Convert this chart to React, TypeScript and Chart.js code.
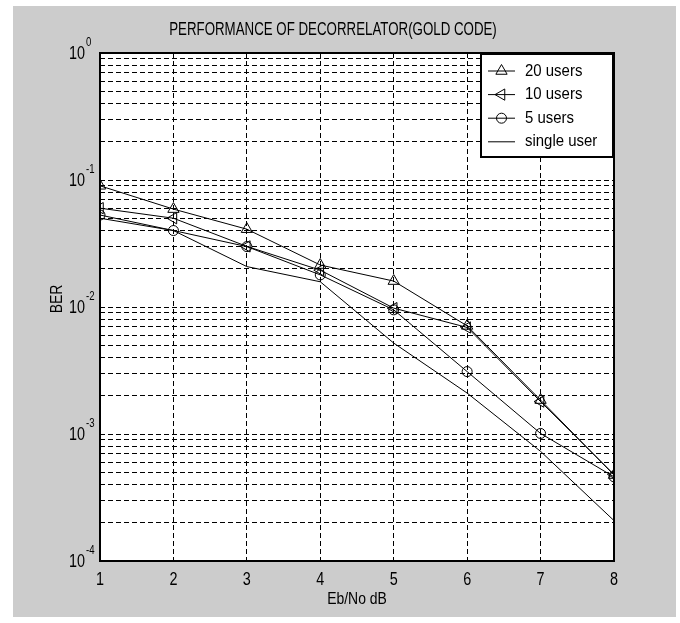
import React, { useEffect, useRef } from 'react';
import { Chart, registerables } from 'chart.js';

Chart.register(...registerables);

// ---- data ----
const ebNo = [1, 2, 3, 4, 5, 6, 7, 8];
const users20 = [0.09, 0.059, 0.041, 0.0214, 0.016, 0.0071, 0.00185, 0.000475];
const users10 = [0.06, 0.05, 0.03, 0.0195, 0.0098, 0.0069, 0.0018, 0.00048];
const users5 = [0.053, 0.04, 0.0299, 0.0179, 0.0095, 0.0031, 0.00101, 0.00046];
const singleUser = [0.05, 0.04, 0.0208, 0.0158, 0.0052, 0.0021, 0.00073, 0.000208];
const seriesLabels = ['20 users', '10 users', '5 users', 'single user'];
const yExponents = [0, -1, -2, -3, -4];
const xTickValues = [1, 2, 3, 4, 5, 6, 7, 8];
const titleText = 'PERFORMANCE OF DECORRELATOR(GOLD CODE)';
const xTitle = 'Eb/No dB';
const yTitle = 'BER';

const FONT = '"Liberation Sans", Arial, sans-serif';

function txt(
  ctx: CanvasRenderingContext2D,
  s: string,
  x: number,
  y: number,
  size: number,
  sx: number,
  align: CanvasTextAlign,
  rot = 0
) {
  ctx.save();
  ctx.font = `${size}px ${FONT}`;
  ctx.fillStyle = '#000';
  ctx.textAlign = align;
  ctx.textBaseline = 'middle';
  ctx.translate(x, y);
  if (rot) ctx.rotate(rot);
  ctx.scale(sx, 1);
  ctx.fillText(s, 0, 0);
  ctx.restore();
}

function marker(ctx: CanvasRenderingContext2D, kind: string, x: number, y: number, r: number) {
  ctx.save();
  ctx.strokeStyle = '#000';
  ctx.lineWidth = 1;
  ctx.beginPath();
  if (kind === 'circle') {
    ctx.arc(x, y, r, 0, Math.PI * 2);
  } else if (kind === 'triUp' || kind === 'triLeft') {
    let a = kind === 'triUp' ? 0 : -Math.PI / 2;
    ctx.moveTo(x + Math.sin(a) * r, y - Math.cos(a) * r);
    a += (2 * Math.PI) / 3;
    ctx.lineTo(x + Math.sin(a) * r, y - Math.cos(a) * r);
    a += (2 * Math.PI) / 3;
    ctx.lineTo(x + Math.sin(a) * r, y - Math.cos(a) * r);
    ctx.closePath();
  }
  ctx.stroke();
  ctx.restore();
}

const decorPlugin = {
  id: 'decor',
  beforeDraw(chart: any) {
    const ctx = chart.ctx as CanvasRenderingContext2D;
    ctx.save();
    ctx.fillStyle = '#ffffff';
    ctx.fillRect(0, 0, chart.width, chart.height);
    ctx.fillStyle = '#cccccc';
    ctx.fillRect(13, 6, 663, 611);
    const a = chart.chartArea;
    ctx.fillStyle = '#ffffff';
    ctx.fillRect(a.left, a.top, a.right - a.left, a.bottom - a.top);
    ctx.restore();
  },
  afterDraw(chart: any) {
    const ctx = chart.ctx as CanvasRenderingContext2D;
    const a = chart.chartArea;
    const xs = chart.scales.x;
    const ys = chart.scales.y;
    // box
    ctx.save();
    ctx.strokeStyle = '#000';
    ctx.lineWidth = 2;
    ctx.strokeRect(a.left, a.top, a.right - a.left, a.bottom - a.top);
    ctx.restore();
    // title
    txt(ctx, titleText, 333, 30, 17.5, 0.76, 'center');
    // x tick labels
    xTickValues.forEach((v) => {
      txt(ctx, String(v), xs.getPixelForValue(v), a.bottom + 19, 18, 0.8, 'center');
    });
    // y tick labels 10^e
    yExponents.forEach((e) => {
      const y = ys.getPixelForValue(Math.pow(10, e));
      txt(ctx, '10', a.left - 15, y + 1, 18, 0.8, 'right');
      txt(ctx, String(e), a.left - 14, y - 10, 12, 0.8, 'left');
    });
    // axis titles
    txt(ctx, xTitle, (a.left + a.right) / 2, a.bottom + 38, 17, 0.82, 'center');
    txt(ctx, yTitle, 57, (a.top + a.bottom) / 2 - 8, 17, 0.82, 'center', -Math.PI / 2);
    // legend
    const lw = 132;
    const lh = 103;
    const lx = a.right - lw - 1;
    const ly = a.top + 1;
    ctx.save();
    ctx.fillStyle = '#fff';
    ctx.fillRect(lx, ly, lw, lh);
    ctx.strokeStyle = '#000';
    ctx.lineWidth = 2;
    ctx.strokeRect(lx, ly, lw, lh);
    ctx.restore();
    const kinds = ['triUp', 'triLeft', 'circle', 'none'];
    seriesLabels.forEach((lab, i) => {
      const yy = ly + 17 + i * 23.6;
      ctx.save();
      ctx.strokeStyle = '#000';
      ctx.lineWidth = 1;
      ctx.beginPath();
      ctx.moveTo(lx + 7, yy);
      ctx.lineTo(lx + 34, yy);
      ctx.stroke();
      ctx.restore();
      if (kinds[i] !== 'none') marker(ctx, kinds[i], lx + 20.5, yy, kinds[i] === 'circle' ? 5 : 6.5);
      txt(ctx, lab, lx + 44, yy, 17, 0.88, 'left');
    });
  },
};

function mkSet(label: string, data: number[], style: any, rotation: number, radius: number) {
  return {
    label,
    data: data.map((v, i) => ({ x: ebNo[i], y: v })),
    borderColor: '#000',
    borderWidth: 1,
    backgroundColor: 'transparent',
    pointStyle: style,
    rotation,
    pointRadius: radius,
    pointBorderColor: '#000',
    pointBackgroundColor: 'transparent',
    pointBorderWidth: 1,
    tension: 0,
    fill: false,
  };
}

export default function App() {
  const ref = useRef<HTMLCanvasElement | null>(null);
  useEffect(() => {
    if (!ref.current) return;
    const yTickVals: number[] = [];
    for (let e = -4; e < 0; e++) {
      for (let m = 1; m <= 9; m++) yTickVals.push(m * Math.pow(10, e));
    }
    yTickVals.push(1);
    const chart = new Chart(ref.current, {
      type: 'line',
      data: {
        datasets: [
          mkSet(seriesLabels[0], users20, 'triangle', 0, 6.5),
          mkSet(seriesLabels[1], users10, 'triangle', -90, 6.5),
          mkSet(seriesLabels[2], users5, 'circle', 0, 5),
          mkSet(seriesLabels[3], singleUser, false, 0, 0),
        ] as any,
      },
      options: {
        animation: false,
        responsive: false,
        devicePixelRatio: 1,
        layout: { padding: { top: 53, right: 66, left: 0, bottom: 0 } },
        plugins: { legend: { display: false }, tooltip: { enabled: false }, title: { display: false } },
        scales: {
          x: {
            type: 'linear',
            min: 1,
            max: 8,
            afterBuildTicks: (s: any) => {
              s.ticks = xTickValues.map((v) => ({ value: v }));
            },
            afterFit: (s: any) => {
              s.height = 62;
            },
            ticks: { display: false },
            grid: { color: '#000', lineWidth: 1, drawTicks: false },
            border: { display: false, dash: [5, 3] },
          },
          y: {
            type: 'logarithmic',
            min: 1e-4,
            max: 1,
            afterBuildTicks: (s: any) => {
              s.ticks = yTickVals.map((v) => ({ value: v }));
            },
            afterFit: (s: any) => {
              s.width = 100;
            },
            ticks: { display: false },
            grid: { color: '#000', lineWidth: 1, drawTicks: false },
            border: { display: false, dash: [5, 3] },
          },
        },
      } as any,
      plugins: [decorPlugin],
    });
    return () => chart.destroy();
  }, []);
  return (
    <div style={{ position: 'fixed', left: 0, top: 0, width: 680, height: 623, background: '#fff' }}>
      <canvas ref={ref} width={680} height={623} style={{ display: 'block', width: 680, height: 623 }} />
    </div>
  );
}
